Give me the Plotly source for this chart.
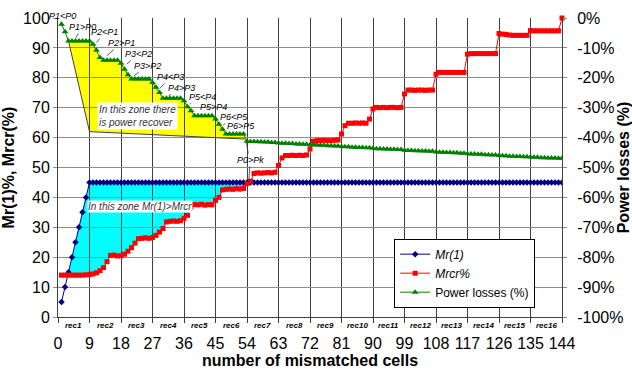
import plotly.graph_objects as go

# ---------------- data ----------------
cells = list(range(1, 145))
x_ticks = list(range(0, 145, 9))
rec_names = ["rec1", "rec2", "rec3", "rec4", "rec5", "rec6", "rec7", "rec8",
             "rec9", "rec10", "rec11", "rec12", "rec13", "rec14", "rec15", "rec16"]
left_ticks = [0, 10, 20, 30, 40, 50, 60, 70, 80, 90, 100]
right_ticks = [-100, -90, -80, -70, -60, -50, -40, -30, -20, -10, 0]
right_tick_labels = ["-100%", "-90%", "-80%", "-70%", "-60%", "-50%",
                     "-40%", "-30%", "-20%", "-10%", "0%"]

# Mr(1) in %
mr1 = [5, 10, 15, 20, 25, 30, 35, 40] + [45] * 136

# Mrcr in %, one row per reconfiguration block of 9 cells
mrcr = [
    14.0, 14.0, 14.0, 14.0, 14.0, 14.0, 14.0, 14.1, 14.2,
    14.4, 14.8, 15.5, 16.5, 18.5, 20.6, 20.7, 20.4, 20.5,
    21.0, 22.0, 23.2, 24.7, 26.2, 26.3, 26.5, 26.3, 26.6,
    27.3, 28.4, 29.6, 31.8, 32.0, 32.1, 32.0, 32.2, 33.0,
    34.0, 36.8, 37.6, 37.5, 37.7, 37.4, 37.6, 37.5, 39.0,
    40.0, 42.5, 42.7, 42.8, 42.7, 42.9, 42.8, 43.0, 44.6,
    45.4, 48.0, 48.2, 48.1, 48.2, 48.3, 48.2, 48.4, 50.7,
    53.2, 54.0, 54.0, 54.1, 54.0, 54.1, 54.0, 54.2, 56.2,
    58.8, 59.0, 59.0, 59.1, 59.0, 59.0, 59.1, 59.2, 61.2,
    64.0, 64.8, 64.8, 64.9, 64.8, 64.9, 64.8, 66.2, 69.6,
    70.1, 70.0, 70.1, 70.0, 70.1, 70.1, 70.0, 70.1, 74.6,
    75.9, 75.9, 75.8, 75.9, 75.9, 75.8, 75.9, 75.9, 81.2,
    81.8, 81.8, 81.8, 81.8, 81.8, 81.8, 81.8, 81.8, 87.9,
    88.1, 88.1, 88.1, 88.1, 88.1, 88.1, 88.1, 88.1, 94.8,
    94.6, 94.5, 94.3, 94.2, 94.2, 94.2, 94.2, 94.2, 95.8,
    95.7, 95.7, 95.7, 95.7, 95.7, 95.7, 95.7, 95.7, 100.0,
]

# Power losses in %, one row per reconfiguration block of 9 cells
power_losses = [
    -2.1, -4.6, -7.7, -7.7, -7.7, -7.7, -7.7, -7.7, -7.7,
    -8.8, -10.8, -13.2, -14.1, -14.1, -14.1, -14.1, -14.1, -15.1,
    -17.1, -19.0, -20.4, -20.4, -20.4, -20.4, -20.4, -20.4, -21.6,
    -23.2, -24.9, -26.8, -26.8, -26.8, -26.8, -26.8, -26.8, -27.7,
    -29.7, -31.0, -32.7, -32.7, -32.7, -32.7, -32.7, -32.7, -33.8,
    -35.5, -37.2, -38.8, -38.8, -38.8, -38.8, -38.8, -38.8, -41.2,
    -41.3, -41.3, -41.4, -41.4, -41.5, -41.5, -41.6, -41.6, -41.8,
    -41.9, -41.9, -42.0, -42.0, -42.1, -42.1, -42.2, -42.2, -42.4,
    -42.5, -42.5, -42.6, -42.6, -42.7, -42.7, -42.8, -42.8, -43.0,
    -43.1, -43.1, -43.2, -43.2, -43.3, -43.3, -43.4, -43.4, -43.6,
    -43.7, -43.7, -43.8, -43.8, -43.9, -43.9, -44.0, -44.0, -44.2,
    -44.3, -44.3, -44.4, -44.4, -44.5, -44.5, -44.6, -44.6, -44.8,
    -44.9, -44.9, -45.0, -45.0, -45.1, -45.1, -45.2, -45.2, -45.4,
    -45.5, -45.5, -45.6, -45.6, -45.7, -45.7, -45.8, -45.8, -46.0,
    -46.1, -46.1, -46.2, -46.2, -46.3, -46.3, -46.4, -46.4, -46.5,
    -46.6, -46.6, -46.7, -46.7, -46.8, -46.8, -46.8, -46.9, -46.9,
]

# zone where power recovers: along the power curve, closed by this base line
recover_first, recover_last = 3, 53
recover_base_x = [53.5, 9, 3]
recover_base_y = [59.5, 62.0, 92.3]

# zone where Mr(1) > Mrcr
mr_zone_first, mr_zone_last = 3, 54

FONT = "Liberation Sans, Arial, sans-serif"


def svg_path(xs, ys, close=True):
    pts = " L ".join(f"{a},{b}" for a, b in zip(xs, ys))
    return "M " + pts + (" Z" if close else "")


fig = go.Figure()

fig.add_trace(go.Scatter(
    x=cells, y=mr1, name="<i>Mr(1)</i>", mode="lines+markers",
    line=dict(color="#000080", width=1),
    marker=dict(symbol="diamond", size=5, color="#000080"),
))
fig.add_trace(go.Scatter(
    x=cells, y=mrcr, name="<i>Mrcr%</i>", mode="lines+markers",
    line=dict(color="#ff0000", width=1),
    marker=dict(symbol="square", size=5, color="#ff0000"),
    cliponaxis=False,
))
fig.add_trace(go.Scatter(
    x=cells, y=power_losses, name="Power losses (%)", mode="lines+markers",
    yaxis="y2",
    line=dict(color="#008000", width=1),
    marker=dict(symbol="triangle-up", size=6, color="#008000"),
))

# shaded zones, drawn below the gridlines
i0, i1 = recover_first - 1, recover_last
rec_x = cells[i0:i1] + recover_base_x
rec_y = [100 + p for p in power_losses[i0:i1]] + recover_base_y
j0, j1 = mr_zone_first - 1, mr_zone_last
mz_x = cells[j0:j1] + cells[j0:j1][::-1]
mz_y = mr1[j0:j1] + mrcr[j0:j1][::-1]

shapes = [
    dict(type="path", xref="x", yref="y", layer="below",
         path=svg_path(rec_x, rec_y), fillcolor="#ffff00",
         line=dict(width=0)),
    dict(type="path", xref="x", yref="y", layer="below",
         path=svg_path(mz_x, mz_y), fillcolor="#00ffff",
         line=dict(width=0)),
    dict(type="path", xref="x", yref="y", layer="between",
         path=svg_path(recover_base_x[::-1], recover_base_y[::-1], close=False),
         line=dict(color="#404040", width=1)),
]

annotations = []

# P-labels with short leader lines: (text, label x, label y, target x, target y)
p_labels = [
    ("P1>P0", 6.9, 97.0, 5.1, 93.4),
    ("P2<P1", 13.4, 95.3, 11.0, 91.8),
    ("P2>P1", 18.0, 91.6, 14.0, 87.4),
    ("P3<P2", 22.9, 88.0, 19.7, 84.6),
    ("P3>P2", 25.7, 84.0, 21.6, 80.6),
    ("P4<P3", 32.0, 80.3, 29.1, 76.4),
    ("P4>P3", 35.4, 76.6, 31.6, 74.0),
    ("P5<P4", 41.4, 73.6, 37.7, 71.2),
    ("P5>P4", 44.3, 70.2, 40.6, 68.2),
    ("P6<P5", 50.3, 66.9, 47.2, 64.2),
    ("P6>P5", 52.3, 63.9, 50.0, 62.0),
    ("P0>Pk", 54.9, 52.5, 54.5, 45.0),
]
lab_font = dict(family=FONT, size=9, color="#000000", style="italic")
annotations.append(dict(x=1.4, y=1.03, xref="x", yref="paper", text="P1<P0",
                        showarrow=False, font=lab_font))
for txt, lx, ly, tx, ty in p_labels:
    annotations.append(dict(
        x=tx, y=ty, ax=lx, ay=ly, xref="x", yref="y", axref="x", ayref="y",
        text=txt, showarrow=True, arrowhead=0, arrowwidth=0.8,
        arrowcolor="#333333", standoff=0, startstandoff=0, font=lab_font,
    ))
# second leader from P0>Pk up to the power curve
annotations.append(dict(
    x=53.8, y=58.9, ax=54.4, ay=54.2, xref="x", yref="y", axref="x", ayref="y",
    text="", showarrow=True, arrowhead=0, arrowwidth=0.8,
    arrowcolor="#333333", standoff=0,
))

zone_font = dict(family=FONT, size=10, color="#333333", style="italic")
annotations.append(dict(
    x=22.7, y=67.1, xref="x", yref="y",
    text="In this zone there<br>is power recover", align="left",
    showarrow=False, bgcolor="#ffffff", borderpad=1, font=zone_font,
))
annotations.append(dict(
    x=23.4, y=37.1, xref="x", yref="y",
    text="In this zone Mr(1)>Mrcr", showarrow=False,
    bgcolor="#ffffff", borderpad=0, font=zone_font,
))

# block names under the axis
for k, name in enumerate(rec_names):
    annotations.append(dict(
        x=x_ticks[k] + 4.5, y=0, xref="x", yref="paper", yanchor="middle",
        yshift=-8, text=f"<b><i>{name}</i></b>", showarrow=False,
        font=dict(family=FONT, size=8, color="#000000"),
    ))

fig.update_layout(
    width=632, height=370,
    margin=dict(l=58, r=70, t=18, b=53),
    paper_bgcolor="#ffffff", plot_bgcolor="#ffffff",
    font=dict(family=FONT, size=16, color="#000000"),
    shapes=shapes, annotations=annotations,
    showlegend=True,
    legend=dict(
        x=0.667, y=0.262, xanchor="left", yanchor="top",
        bgcolor="#ffffff", bordercolor="#000000", borderwidth=1,
        font=dict(family=FONT, size=12, color="#000000"),
        tracegroupgap=0,
    ),
    xaxis=dict(
        range=[0, 144], tickvals=x_ticks, ticks="outside", ticklen=5,
        tickcolor="#404040", showgrid=True, gridcolor="#404040", gridwidth=1,
        showline=True, linecolor="#404040", linewidth=1, zeroline=False,
        tickfont=dict(size=16), ticklabelstandoff=7, automargin=False,
        title=dict(text="<b>number of mismatched cells</b>",
                   font=dict(size=16), standoff=1),
    ),
    yaxis=dict(
        range=[0, 100], tickvals=left_ticks, ticks="outside", ticklen=4,
        tickcolor="#8c8c8c", showgrid=True, gridcolor="#8c8c8c", gridwidth=1,
        showline=True, linecolor="#404040", linewidth=1, zeroline=False,
        tickfont=dict(size=16), automargin=False,
        title=dict(text="<b>Mr(1)%, Mrcr(%)</b>", font=dict(size=16),
                   standoff=6),
    ),
    yaxis2=dict(
        range=[-100, 0], overlaying="y", side="right",
        tickvals=right_ticks, ticktext=right_tick_labels,
        ticks="outside", ticklen=4, tickcolor="#8c8c8c", showgrid=False,
        showline=True, linecolor="#404040", linewidth=1, zeroline=False,
        tickfont=dict(size=16), ticklabelstandoff=7, automargin=False,
        title=dict(text="<b>Power losses (%)</b>", font=dict(size=16),
                   standoff=2),
    ),
)

fig.write_html("out.html")
